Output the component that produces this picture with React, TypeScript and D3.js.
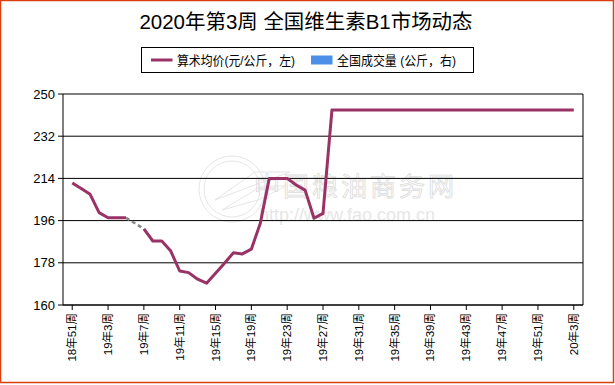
import React from "react";
import * as d3 from "d3";

const W = 615;
const H = 385;

const title = "2020年第3周 全国维生素B1市场动态";
const legendLabels = ["算术均价(元/公斤，左)", "全国成交量 (公斤，右)"];

// weeks: 18w51 .. 20w3
const weeks: string[] = [
  "18年51周", "18年52周",
  ...Array.from({ length: 52 }, (_, i) => `19年${i + 1}周`),
  "20年1周", "20年2周", "20年3周",
];

const yTicks = [160, 178, 196, 214, 232, 250];

const priceHead: (number | null)[] = [
  212, 209.7, 207.2, 199.4, 197.2, 197.2, 197.2, null, 192.5, 187.3,
  187.3, 183, 174.5, 173.8, 171, 169.3, 173.5, 177.8, 182.3, 181.8,
  183.8, 194.9, 214, 214, 214, 211.2, 209, 197, 199.1,
];
const plateauValue = 243.2;
const plateauCount = 28; // weeks 19w28 .. 20w3
const prices: (number | null)[] = [
  ...priceHead,
  ...Array.from({ length: plateauCount }, () => plateauValue),
];

const fontFamily = "'Liberation Sans', Arial, 'Noto Sans CJK SC', sans-serif";

export default function App() {
  const left = 63, right = 583, top = 94, bottom = 305;
  const x = d3.scalePoint<string>().domain(weeks).range([left, right]).padding(1.03);
  const y = d3.scaleLinear().domain([160, 250]).range([bottom, top]);

  const pts = prices.map((v, i) => ({ v, k: weeks[i] }));
  const line = d3
    .line<{ v: number | null; k: string }>()
    .defined((d) => d.v !== null)
    .x((d) => x(d.k) as number)
    .y((d) => y(d.v as number));

  // gap segments (dashed) connecting across nulls
  const gaps: { a: number; b: number }[] = [];
  for (let i = 0; i < prices.length; i++) {
    if (prices[i] === null) {
      const a = i - 1;
      let b = i;
      while (b < prices.length && prices[b] === null) b++;
      if (a >= 0 && b < prices.length) gaps.push({ a, b });
      i = b;
    }
  }

  const labelIdx = weeks.map((_, i) => i).filter((i) => i % 4 === 0);

  return (
    <svg
      width={W}
      height={H}
      style={{ position: "absolute", left: 0, top: 0, background: "#fff" }}
      fontFamily={fontFamily}
    >
      <rect x={0} y={0} width={W} height={H} fill="#fff" />
      <rect x={0.5} y={0.5} width={613} height={382} fill="none" stroke="#D9400E" strokeWidth={1.5} />

      <text x={306} y={29} textAnchor="middle" fontSize={20} fill="#000" textLength={333} lengthAdjust="spacingAndGlyphs">
        {title}
      </text>

      {/* legend */}
      <rect x={141.5} y={47.5} width={332} height={25} fill="#fff" stroke="#000" />
      <line x1={151} x2={172.5} y1={60} y2={60} stroke="#993366" strokeWidth={3} />
      <text x={177} y={65} fontSize={13} fill="#000" textLength={118} lengthAdjust="spacingAndGlyphs">{legendLabels[0]}</text>
      <rect x={311} y={55.5} width={21.5} height={9} fill="#4C8FE8" />
      <text x={337} y={65} fontSize={13} fill="#000" textLength={119} lengthAdjust="spacingAndGlyphs">{legendLabels[1]}</text>

      {/* watermark */}
      <g opacity={0.6} fill="none" stroke="#d6d6d6" strokeWidth={1}>
        <circle cx={232} cy={189} r={33} />
        <circle cx={232} cy={189} r={28} />
        <path d="M215 200 L255 172 L290 172 L260 183 Z" />
        <path d="M222 210 L262 186 L286 186 L258 200 Z" />
      </g>
      <text x={254} y={196} fontSize={26} fill="none" stroke="#dcdcdc" strokeWidth={0.8} fontFamily="'Noto Sans CJK SC', sans-serif" letterSpacing={3}>
        中国粮油商务网
      </text>
      <text x={259} y={221} fontSize={18} fill="#e6e6e6">
        http://www.fao.com.cn
      </text>

      {/* grid */}
      {yTicks.map((t) => (
        <g key={t}>
          <line x1={left - 5} x2={right} y1={y(t)} y2={y(t)} stroke="#000" strokeWidth={1} />
          <text x={55} y={y(t) + 4.5} textAnchor="end" fontSize={13} fill="#000">
            {t}
          </text>
        </g>
      ))}
      {/* axes frame */}
      <line x1={left} x2={left} y1={top} y2={bottom} stroke="#000" />
      <line x1={right} x2={right} y1={top} y2={bottom} stroke="#000" />
      <line x1={left} x2={right} y1={bottom} y2={bottom} stroke="#000" />

      {labelIdx.map((i) => {
        const xx = x(weeks[i]) as number;
        return (
          <g key={i}>
            <line x1={xx} x2={xx} y1={bottom} y2={bottom + 5} stroke="#000" />
            <text
              transform={`translate(${xx + 4},${bottom + 8}) rotate(-90)`}
              textAnchor="end"
              fontSize={11.5}
              fill="#000"
            >
              {weeks[i]}
            </text>
          </g>
        );
      })}

      {/* dashed gaps */}
      {gaps.map((g, i) => (
        <line
          key={i}
          x1={x(weeks[g.a]) as number}
          y1={y(prices[g.a] as number)}
          x2={x(weeks[g.b]) as number}
          y2={y(prices[g.b] as number)}
          stroke="#888"
          strokeWidth={2.5}
          strokeDasharray="4 3"
        />
      ))}
      <path d={line(pts) || ""} fill="none" stroke="#993366" strokeWidth={3} strokeLinejoin="round" />
    </svg>
  );
}
